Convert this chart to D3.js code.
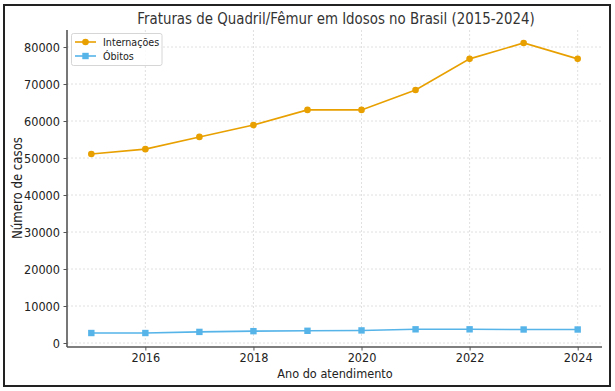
<!DOCTYPE html>
<html><head><meta charset="utf-8">
<script src="https://cdn.jsdelivr.net/npm/d3@7"></script>
<style>body{margin:0;background:#fff}svg{display:block;font-family:"DejaVu Sans",sans-serif}</style>
</head><body><svg id="c" width="615" height="391"></svg>
<script>
const years = [2015,2016,2017,2018,2019,2020,2021,2022,2023,2024];
const internacoes = [51100,52400,55700,58900,63000,63000,68400,76800,81100,76800];
const obitos = [2700,2700,3000,3200,3300,3400,3700,3700,3650,3650];
const xTicks = [2016,2018,2020,2022,2024];
const yTicks = [0,10000,20000,30000,40000,50000,60000,70000,80000];
const seriesNames = ["Internações","Óbitos"];
const colors = ["#E8A000","#56B4E9"];

const svg = d3.select("#c");
svg.append("rect").attr("x",4).attr("y",5).attr("width",606).attr("height",381)
  .attr("fill","none").attr("stroke","#222").attr("stroke-width",2);

const L=67,R=602,T=30,B=347;
const x = d3.scaleLinear().domain([2014.55,2024.45]).range([L,R]);
const y = d3.scaleLinear().domain([-1080,84600]).range([B,T]);

const g = svg.append("g");
g.selectAll(".gx").data(xTicks).enter().append("line")
 .attr("x1",d=>x(d)).attr("x2",d=>x(d)).attr("y1",T).attr("y2",B)
 .attr("stroke","#d8d8d8").attr("stroke-width",0.8).attr("stroke-dasharray","2,2");
g.selectAll(".gy").data(yTicks).enter().append("line")
 .attr("x1",L).attr("x2",R).attr("y1",d=>y(d)).attr("y2",d=>y(d))
 .attr("stroke","#d8d8d8").attr("stroke-width",0.8).attr("stroke-dasharray","2,2");

const xa = svg.append("g").attr("transform",`translate(0,${B})`)
 .call(d3.axisBottom(x).tickValues(xTicks).tickFormat(d3.format("d")).tickSize(3.5).tickPadding(2.5));
const ya = svg.append("g").attr("transform",`translate(${L},0)`)
 .call(d3.axisLeft(y).tickValues(yTicks).tickFormat(d3.format("d")).tickSize(3.5).tickPadding(3.5));
[xa,ya].forEach(a=>{
  a.select(".domain").attr("stroke","#555").attr("stroke-width",1.6);
  a.selectAll(".tick line").attr("stroke","#555");
  a.selectAll(".tick text").attr("fill","#222").style("font-size","13px").style("font-family","DejaVu Sans");
});
ya.select(".domain").attr("d",`M0,${T}V${B}`);
xa.select(".domain").attr("d",`M${L},0H${R}`);

const data = [internacoes, obitos];
const line = d3.line().x((d,i)=>x(years[i])).y(d=>y(d));
data.forEach((s,k)=>{
  svg.append("path").datum(s).attr("d",line).attr("fill","none")
    .attr("stroke",colors[k]).attr("stroke-width",1.6);
  if(k===0){
    svg.selectAll(".m0").data(s).enter().append("circle")
     .attr("cx",(d,i)=>x(years[i])).attr("cy",d=>y(d)).attr("r",3.3).attr("fill",colors[k]);
  } else {
    svg.selectAll(".m1").data(s).enter().append("rect")
     .attr("x",(d,i)=>x(years[i])-3.2).attr("y",d=>y(d)-3.2).attr("width",6.4).attr("height",6.4).attr("fill",colors[k]);
  }
});

svg.append("text").attr("x",336).attr("y",24).attr("text-anchor","middle").attr("data-sx",0.835)
 .style("font-size","16px").attr("fill","#333").text("Fraturas de Quadril/Fêmur em Idosos no Brasil (2015-2024)");
svg.append("text").attr("x",335).attr("y",378).attr("text-anchor","middle")
 .style("font-size","13px").attr("fill","#222").text("Ano do atendimento");
svg.append("text").attr("transform","translate(22,188) rotate(-90)").attr("text-anchor","middle")
 .style("font-size","13.5px").attr("fill","#222").text("Número de casos");

const lg = svg.append("g");
lg.append("rect").attr("x",71.5).attr("y",33.5).attr("width",90.5).attr("height",32).attr("rx",2)
 .attr("fill","#fff").attr("fill-opacity",0.85).attr("stroke","#ccc").attr("stroke-width",0.8);
seriesNames.forEach((n,k)=>{
  const yy = 42+k*14;
  lg.append("line").attr("x1",75).attr("x2",96).attr("y1",yy).attr("y2",yy).attr("stroke",colors[k]).attr("stroke-width",1.6);
  if(k===0) lg.append("circle").attr("cx",85.5).attr("cy",yy).attr("r",3.3).attr("fill",colors[k]);
  else lg.append("rect").attr("x",82.3).attr("y",yy-3.2).attr("width",6.4).attr("height",6.4).attr("fill",colors[k]);
  lg.append("text").attr("x",103).attr("y",yy+4).style("font-size",  "11px").attr("fill","#222").text(n);
});

svg.selectAll("text").each(function(){
  const f = +(this.getAttribute("data-sx") || 0.87);
  const len = this.getComputedTextLength();
  this.setAttribute("textLength", len*f);
  this.setAttribute("lengthAdjust","spacingAndGlyphs");
});
</script></body></html>
